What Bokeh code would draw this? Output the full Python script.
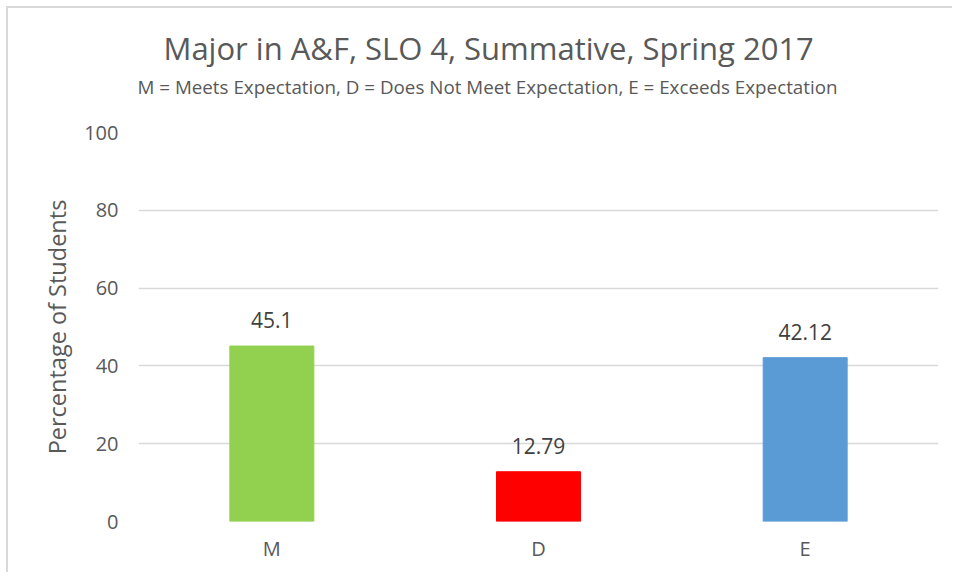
from bokeh.plotting import figure
from bokeh.models import FactorRange, Range1d, FixedTicker, Title, ColumnDataSource
from bokeh.core.properties import value
from bokeh.embed import file_html
from bokeh.resources import INLINE

categories = ["M", "D", "E"]
percentages = [45.1, 12.79, 42.12]
labels = ["45.1", "12.79", "42.12"]
colors = ["#92D050", "#FF0000", "#5B9BD5"]
y_ticks = [0, 20, 40, 60, 80, 100]
title_text = "Major in A&F, SLO 4, Summative, Spring 2017"
subtitle_text = "M = Meets Expectation, D = Does Not Meet Expectation, E = Exceeds Expectation"

FONT = "Open Sans"
TXT = "#595959"

src = ColumnDataSource(dict(cat=categories, val=percentages, lab=labels, col=colors))

p = figure(width=952, height=572, output_backend="svg", toolbar_location=None,
           x_range=FactorRange(factors=categories, range_padding=0),
           y_range=Range1d(0, 100),
           min_border_left=138, min_border_right=14, min_border_top=132, min_border_bottom=51)
p.border_fill_color = None
p.background_fill_color = "white"
p.styles = {"background": "linear-gradient(#d9d9d9,#d9d9d9) 6px 6px / 2px 100% no-repeat, "
                          "linear-gradient(#d9d9d9,#d9d9d9) 6px 6px / 100% 2px no-repeat, #ffffff"}
p.outline_line_color = None

p.vbar(x="cat", top="val", width=0.315, color="col", source=src)
p.text(x="cat", y="val", text="lab", source=src, text_align="center", text_baseline="alphabetic",
       y_offset=-26, text_font=value(FONT), text_font_size="21px", text_color="#404040")

# titles stacked above the frame: spacer (nearest the plot), subtitle, main title
spacer = Title(text=" ", text_font=FONT, text_font_size="10px", standoff=15)
sub = Title(text=subtitle_text, align="left", offset=-1, text_font=FONT,
            text_font_size="18.8px", text_color=TXT, text_font_style="normal", standoff=4)
main = Title(text=title_text, align="left", offset=25, text_font=FONT,
             text_font_size="31px", text_color=TXT, text_font_style="normal", standoff=2)
p.add_layout(spacer, "above")
p.add_layout(sub, "above")
p.add_layout(main, "above")

p.yaxis.ticker = FixedTicker(ticks=y_ticks)
p.yaxis.axis_label = "Percentage of Students"
p.yaxis.axis_label_text_font = FONT
p.yaxis.axis_label_text_font_size = "23.5px"
p.yaxis.axis_label_text_font_style = "normal"
p.yaxis.axis_label_text_color = TXT
p.yaxis.axis_label_standoff = 8
p.axis.axis_line_color = None
p.axis.major_tick_line_color = None
p.axis.major_tick_out = 0
p.axis.major_tick_in = 0
p.axis.minor_tick_line_color = None
p.axis.major_label_text_font = FONT
p.axis.major_label_text_font_size = "20px"
p.axis.major_label_text_color = TXT
p.yaxis.major_label_standoff = 20
p.xaxis.major_label_standoff = 13

p.xgrid.grid_line_color = None
p.ygrid.grid_line_color = "#d9d9d9"
p.ygrid.grid_line_width = 1.5

open("out.html", "w").write(file_html(p, INLINE))
